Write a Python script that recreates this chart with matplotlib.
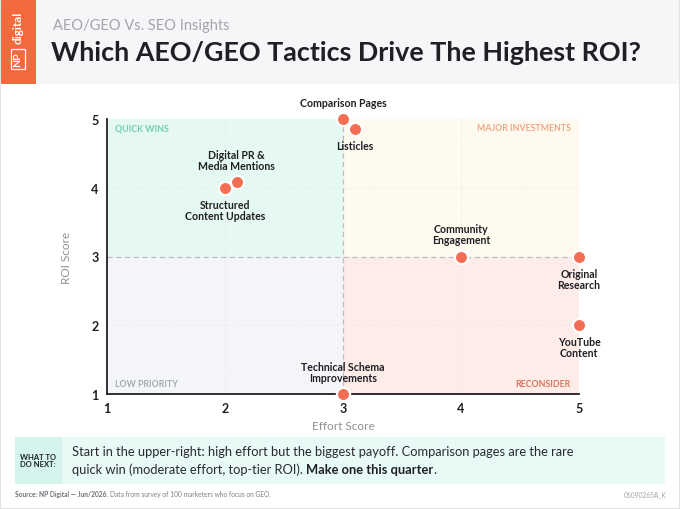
import matplotlib.pyplot as plt
from matplotlib.patches import Rectangle

plt.rcParams["font.family"] = ["Lato", "DejaVu Sans"]

TACTICS = [
    "Comparison Pages",
    "Listicles",
    "Digital PR &\nMedia Mentions",
    "Structured\nContent Updates",
    "Community\nEngagement",
    "Original\nResearch",
    "YouTube\nContent",
    "Technical Schema\nImprovements",
]
EFFORT = [3.0, 3.1, 2.1, 2.0, 4.0, 5.0, 5.0, 3.0]
ROI = [5.0, 4.85, 4.08, 4.0, 3.0, 3.0, 2.0, 1.0]
LABEL_ABOVE = [True, False, True, False, True, False, False, True]

TICKS = [1, 2, 3, 4, 5]

QUADRANTS = [
    ("QUICK WINS", (1, 3), (3, 5), "#e5f8f1", "#6fd0b0"),
    ("MAJOR INVESTMENTS", (3, 5), (3, 5), "#fffaf0", "#f2a587"),
    ("LOW PRIORITY", (1, 3), (1, 3), "#f4f5f8", "#a3aab2"),
    ("RECONSIDER", (3, 5), (1, 3), "#fdece8", "#d9735e"),
]

MARKER = "#f26d53"
DARK = "#1f1f24"


def fx(px):
    return px / 680


def fy(px):
    return 1 - px / 510


def text_after(fig, prev, y, s, **kw):
    # place a text run right after the previous one on the same baseline
    bb = prev.get_window_extent(renderer=fig.canvas.get_renderer())
    return fig.text(bb.x1 / fig.bbox.width, y, s, **kw)


fig = plt.figure(figsize=(6.8, 5.1), dpi=100)

# header band + logo block
fig.patches.append(Rectangle((0, fy(85)), 1, 85 / 510, transform=fig.transFigure,
                             facecolor="#f6f6f8", edgecolor="none", zorder=0))
fig.patches.append(Rectangle((0, fy(85)), fx(36), 85 / 510, transform=fig.transFigure,
                             facecolor="#f26a3d", edgecolor="none", zorder=1))
fig.text(fx(18), fy(28), "digital", rotation=90, color="white", fontsize=8.5,
         ha="center", va="center", fontweight="bold")
fig.text(fx(18), fy(60), "NP", rotation=90, color="white", fontsize=7.5,
         ha="center", va="center", fontweight="bold",
         bbox=dict(boxstyle="square,pad=0.25", facecolor="none", edgecolor="white", lw=0.9))
fig.text(fx(53), fy(26), "AEO/GEO Vs. SEO Insights", fontsize=10.5, color="#a3a5ab",
         va="center")
fig.text(fx(51), fy(53), "Which AEO/GEO Tactics Drive The Highest ROI?", fontsize=19.4,
         color=DARK, fontweight="bold", va="center")

ax = fig.add_axes([fx(107), fy(395), 472 / 680, 275 / 510])
ax.set_xlim(1, 5)
ax.set_ylim(1, 5)

for name, (x0, x1), (y0, y1), fill, tc in QUADRANTS:
    ax.add_patch(Rectangle((x0, y0), x1 - x0, y1 - y0, facecolor=fill, edgecolor="none", zorder=0))
    ty = y1 - 0.13 if y0 == 3 else y0 + 0.15
    if x0 == 1:
        ax.text(x0 + 0.07, ty, name, color=tc, fontsize=6.3, fontweight="bold", ha="left", va="center")
    else:
        ax.text(x1 - 0.07, ty, name, color=tc, fontsize=6.3, fontweight="bold", ha="right", va="center")

for t in TICKS[1:-1]:
    ax.axvline(t, color="#e4e4e4", lw=0.6, ls=":", zorder=1)
    ax.axhline(t, color="#e4e4e4", lw=0.6, ls=":", zorder=1)
ax.axvline(3, color="#b9bcc2", lw=0.9, ls=(0, (4, 3)), zorder=2)
ax.axhline(3, color="#b9bcc2", lw=0.9, ls=(0, (4, 3)), zorder=2)

ax.scatter(EFFORT, ROI, s=90, color=MARKER, edgecolor="white", linewidth=1.6, zorder=5,
           clip_on=False)

for name, x, y, above in zip(TACTICS, EFFORT, ROI, LABEL_ABOVE):
    off = 8 if above else -8
    ax.annotate(name, (x, y), textcoords="offset points", xytext=(0, off),
                ha="center", va="bottom" if above else "top", fontsize=7.6,
                fontweight="bold", color=DARK, linespacing=1.0, zorder=6,
                annotation_clip=False)

ax.set_xticks(TICKS)
ax.set_yticks(TICKS)
ax.tick_params(length=0, labelsize=9, colors=DARK, pad=6)
for lab in ax.get_xticklabels() + ax.get_yticklabels():
    lab.set_fontweight("bold")
for s in ["top", "right"]:
    ax.spines[s].set_visible(False)
for s in ["left", "bottom"]:
    ax.spines[s].set_color(DARK)
    ax.spines[s].set_linewidth(1.3)
ax.set_xlabel("Effort Score", fontsize=8.5, color="#8d9096", labelpad=4)
ax.set_ylabel("ROI Score", fontsize=8.5, color="#8d9096", labelpad=14)

# callout box
fig.patches.append(Rectangle((fx(15), fy(485)), 650 / 680, 47 / 510,
                             transform=fig.transFigure, facecolor="#e8faf6", edgecolor="none"))
fig.patches.append(Rectangle((fx(15), fy(485)), 47 / 680, 47 / 510,
                             transform=fig.transFigure, facecolor="#d5f4ed", edgecolor="none"))
fig.text(fx(38), fy(461), "WHAT TO\nDO NEXT:", fontsize=5.5, fontweight="bold",
         color=DARK, ha="center", va="center", linespacing=1.1)
fig.text(fx(72), fy(452),
         "Start in the upper-right: high effort but the biggest payoff. Comparison pages are the rare",
         fontsize=9.3, color="#2a2a30", va="center")
fig.canvas.draw()
t1 = fig.text(fx(72), fy(470), "quick win (moderate effort, top-tier ROI). ",
              fontsize=9.3, color="#2a2a30", va="center")
t2 = text_after(fig, t1, fy(470), "Make one this quarter", fontsize=9.3, color=DARK,
                fontweight="bold", va="center")
text_after(fig, t2, fy(470), ".", fontsize=9.3, color="#2a2a30", va="center")

s1 = fig.text(fx(15), fy(495), "Source: NP Digital \u2014 Jun/2026. ", fontsize=4.8,
              color="#6d7076", fontweight="bold", va="center")
text_after(fig, s1, fy(495), "Data from survey of 100 marketers who focus on GEO.",
           fontsize=4.8, color="#7d8086", va="center")
fig.text(fx(666), fy(495), "06090265A_K", fontsize=4.8, color="#a0a3a8",
         ha="right", va="center")

fig.patches.append(Rectangle((0, 0), 1, 1, transform=fig.transFigure, facecolor="none",
                             edgecolor="#e2e2e2", linewidth=1.5))

fig.savefig("out.png", dpi=100)
